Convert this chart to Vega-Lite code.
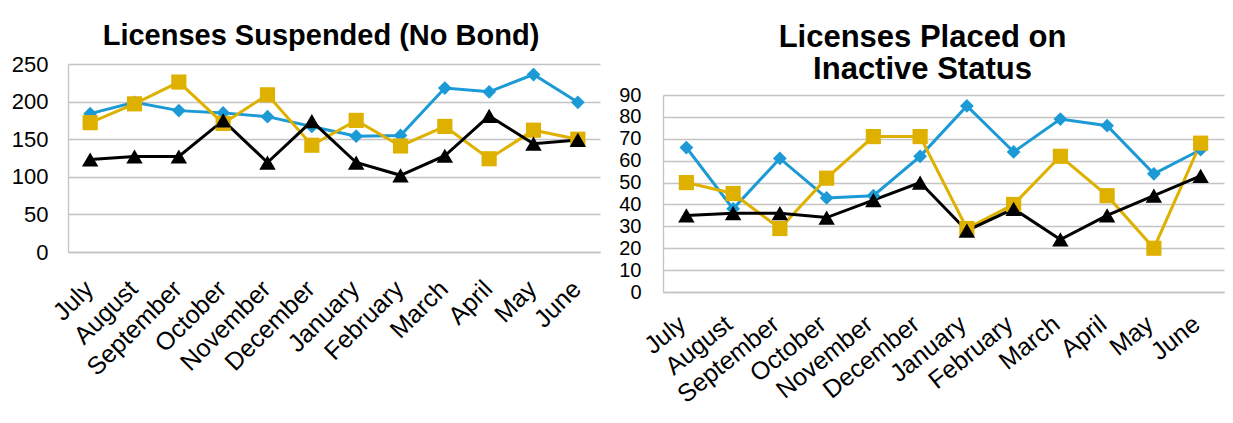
{
  "$schema": "https://vega.github.io/schema/vega-lite/v6.json",
  "background": "white",
  "padding": {"left": 11, "top": 22, "right": 5, "bottom": 5},
  "spacing": 18,
  "config": {
    "view": {"stroke": null},
    "font": "Liberation Sans",
    "axis": {
      "labelFont": "Liberation Sans",
      "labelColor": "#000000",
      "gridColor": "#C4C4C4",
      "gridWidth": 1.3,
      "domainColor": "#C4C4C4",
      "domainWidth": 1.3,
      "ticks": false,
      "title": null
    }
  },
  "datasets": {
    "suspended": [
      {"month": "July", "series": "Series 1", "value": 184},
      {"month": "August", "series": "Series 1", "value": 199},
      {"month": "September", "series": "Series 1", "value": 188},
      {"month": "October", "series": "Series 1", "value": 185},
      {"month": "November", "series": "Series 1", "value": 180},
      {"month": "December", "series": "Series 1", "value": 167},
      {"month": "January", "series": "Series 1", "value": 154},
      {"month": "February", "series": "Series 1", "value": 155},
      {"month": "March", "series": "Series 1", "value": 218},
      {"month": "April", "series": "Series 1", "value": 213},
      {"month": "May", "series": "Series 1", "value": 236},
      {"month": "June", "series": "Series 1", "value": 199},
      {"month": "July", "series": "Series 2", "value": 172},
      {"month": "August", "series": "Series 2", "value": 197},
      {"month": "September", "series": "Series 2", "value": 226},
      {"month": "October", "series": "Series 2", "value": 171},
      {"month": "November", "series": "Series 2", "value": 209},
      {"month": "December", "series": "Series 2", "value": 142},
      {"month": "January", "series": "Series 2", "value": 175},
      {"month": "February", "series": "Series 2", "value": 141},
      {"month": "March", "series": "Series 2", "value": 167},
      {"month": "April", "series": "Series 2", "value": 124},
      {"month": "May", "series": "Series 2", "value": 162},
      {"month": "June", "series": "Series 2", "value": 150},
      {"month": "July", "series": "Series 3", "value": 123},
      {"month": "August", "series": "Series 3", "value": 127},
      {"month": "September", "series": "Series 3", "value": 127},
      {"month": "October", "series": "Series 3", "value": 175},
      {"month": "November", "series": "Series 3", "value": 119},
      {"month": "December", "series": "Series 3", "value": 174},
      {"month": "January", "series": "Series 3", "value": 119},
      {"month": "February", "series": "Series 3", "value": 102},
      {"month": "March", "series": "Series 3", "value": 128},
      {"month": "April", "series": "Series 3", "value": 181},
      {"month": "May", "series": "Series 3", "value": 144},
      {"month": "June", "series": "Series 3", "value": 149}
    ],
    "inactive": [
      {"month": "July", "series": "Series 1", "value": 66},
      {"month": "August", "series": "Series 1", "value": 38},
      {"month": "September", "series": "Series 1", "value": 61},
      {"month": "October", "series": "Series 1", "value": 43},
      {"month": "November", "series": "Series 1", "value": 44},
      {"month": "December", "series": "Series 1", "value": 62},
      {"month": "January", "series": "Series 1", "value": 85},
      {"month": "February", "series": "Series 1", "value": 64},
      {"month": "March", "series": "Series 1", "value": 79},
      {"month": "April", "series": "Series 1", "value": 76},
      {"month": "May", "series": "Series 1", "value": 54},
      {"month": "June", "series": "Series 1", "value": 65},
      {"month": "July", "series": "Series 2", "value": 50},
      {"month": "August", "series": "Series 2", "value": 45},
      {"month": "September", "series": "Series 2", "value": 29},
      {"month": "October", "series": "Series 2", "value": 52},
      {"month": "November", "series": "Series 2", "value": 71},
      {"month": "December", "series": "Series 2", "value": 71},
      {"month": "January", "series": "Series 2", "value": 29},
      {"month": "February", "series": "Series 2", "value": 40},
      {"month": "March", "series": "Series 2", "value": 62},
      {"month": "April", "series": "Series 2", "value": 44},
      {"month": "May", "series": "Series 2", "value": 20},
      {"month": "June", "series": "Series 2", "value": 68},
      {"month": "July", "series": "Series 3", "value": 35},
      {"month": "August", "series": "Series 3", "value": 36},
      {"month": "September", "series": "Series 3", "value": 36},
      {"month": "October", "series": "Series 3", "value": 34},
      {"month": "November", "series": "Series 3", "value": 42},
      {"month": "December", "series": "Series 3", "value": 50},
      {"month": "January", "series": "Series 3", "value": 28},
      {"month": "February", "series": "Series 3", "value": 38},
      {"month": "March", "series": "Series 3", "value": 24},
      {"month": "April", "series": "Series 3", "value": 35},
      {"month": "May", "series": "Series 3", "value": 44},
      {"month": "June", "series": "Series 3", "value": 53}
    ]
  },
  "hconcat": [
    {
      "data": {"name": "suspended"},
      "width": 532,
      "height": 188,
      "title": {
        "text": "Licenses Suspended (No Bond)",
        "font": "Liberation Sans",
        "fontSize": 29,
        "fontWeight": "bold",
        "color": "#000000",
        "anchor": "middle",
        "dx": -13,
        "offset": 2
      },
      "encoding": {
        "x": {
          "field": "month", "type": "nominal",
          "sort": ["July","August","September","October","November","December","January","February","March","April","May","June"],
          "axis": {"labelAngle": -45, "labelFontSize": 25, "labelPadding": 24, "labelOffset": -10, "grid": false, "domain": true}
        },
        "y": {
          "field": "value", "type": "quantitative",
          "scale": {"domain": [0, 250]},
          "axis": {"values": [0, 50, 100, 150, 200, 250], "labelFontSize": 22, "labelPadding": 20, "grid": true, "domain": true}
        },
        "color": {
          "field": "series", "type": "nominal",
          "scale": {"domain": ["Series 1", "Series 2", "Series 3"], "range": ["#1C9AD6", "#DEB100", "#000000"]},
          "legend": null
        }
      },
      "layer": [
        {"mark": {"type": "line", "strokeWidth": 3}},
        {
          "mark": {"type": "point", "filled": true, "opacity": 1},
          "encoding": {
            "shape": {"field": "series", "type": "nominal", "scale": {"domain": ["Series 1", "Series 2", "Series 3"], "range": ["diamond", "square", "triangle-up"]}, "legend": null},
            "size": {"field": "series", "type": "nominal", "scale": {"domain": ["Series 1", "Series 2", "Series 3"], "range": [190, 270, 260]}, "legend": null}
          }
        }
      ]
    },
    {
      "data": {"name": "inactive"},
      "width": 561,
      "height": 228,
      "title": {
        "text": ["Licenses Placed on", "Inactive Status"],
        "font": "Liberation Sans",
        "fontSize": 31,
        "lineHeight": 32,
        "fontWeight": "bold",
        "color": "#000000",
        "anchor": "middle",
        "dx": -21,
        "offset": -22
      },
      "encoding": {
        "x": {
          "field": "month", "type": "nominal",
          "sort": ["July","August","September","October","November","December","January","February","March","April","May","June"],
          "axis": {"labelAngle": -39, "labelFontSize": 25, "labelPadding": 19, "labelOffset": -12, "grid": false, "domain": true}
        },
        "y": {
          "field": "value", "type": "quantitative",
          "scale": {"domain": [0, 90], "range": [228, 31]},
          "axis": {"values": [0, 10, 20, 30, 40, 50, 60, 70, 80, 90], "labelFontSize": 20, "labelPadding": 22, "grid": true, "domain": true}
        },
        "color": {
          "field": "series", "type": "nominal",
          "scale": {"domain": ["Series 1", "Series 2", "Series 3"], "range": ["#1C9AD6", "#DEB100", "#000000"]},
          "legend": null
        }
      },
      "layer": [
        {"mark": {"type": "line", "strokeWidth": 3}},
        {
          "mark": {"type": "point", "filled": true, "opacity": 1},
          "encoding": {
            "shape": {"field": "series", "type": "nominal", "scale": {"domain": ["Series 1", "Series 2", "Series 3"], "range": ["diamond", "square", "triangle-up"]}, "legend": null},
            "size": {"field": "series", "type": "nominal", "scale": {"domain": ["Series 1", "Series 2", "Series 3"], "range": [190, 270, 260]}, "legend": null}
          }
        }
      ]
    }
  ],
  "resolve": {"scale": {"color": "independent", "shape": "independent", "size": "independent"}}
}
